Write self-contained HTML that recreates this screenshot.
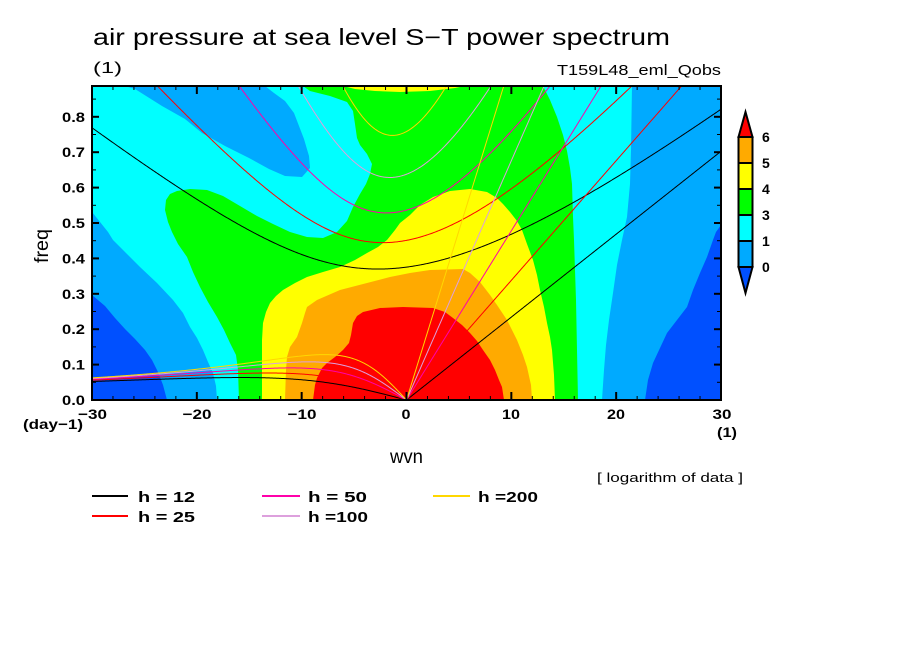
<!DOCTYPE html>
<html><head><meta charset="utf-8"><style>
html,body{margin:0;padding:0;background:#fff;}
svg{display:block;}
text{font-family:"Liberation Sans",sans-serif;fill:#000;}
.b{font-weight:bold;}
</style></head><body>
<svg id="s" xmlns="http://www.w3.org/2000/svg" width="904" height="654" viewBox="0 0 904 654">
<rect width="904" height="654" fill="#fff"/>
<defs><clipPath id="cp"><rect x="92" y="86" width="629" height="314"/></clipPath></defs>
<g clip-path="url(#cp)">
<rect x="92" y="86" width="629" height="314" fill="#00ffff"/>
<!-- medium blue regions -->
<polygon fill="#00aaff" points="125,86 135,89 162,106 185,119 202,133 225,146 249,158 269,169 285,176 302,177 310,168 309,156 304,139 299,126 294,113 285,101 274,93 265,86"/>
<polygon fill="#00aaff" points="92,212 100,222 108,232 113,240 125,252 140,267 157,283 173,300 183,313 190,327 197,338 203,350 208,362 213,373 216,386 217,400 92,400"/>
<polygon fill="#00aaff" points="632,86 631,150 630,184 627,217 622,240 617,265 613,293 609,320 606,345 604,370 602,400 721,400 721,86"/>
<!-- dark blue -->
<polygon fill="#0050ff" points="92,295 105,306 115,318 125,329 135,339 145,350 152,360 158,372 163,385 167,400 92,400"/>
<polygon fill="#0050ff" points="721,225 716,232 713,240 707,257 700,273 693,290 687,307 677,320 667,333 660,348 653,363 648,380 645,400 721,400"/>
<!-- green -->
<polygon fill="#00ff00" points="303,86 543,86 550,100 557,117 563,135 567,151 570,168 572,184 573,217 574,240 575,270 576,300 577,350 578,400 239,400 238,370 236,355 230,343 224,330 217,317 208,302 200,287 193,272 187,257 178,244 172,232 168,222 165,210 166,200 170,194 177,191 190,189 207,190 223,196 240,206 257,216 273,224 290,232 307,237 323,238 337,232 347,221 353,207 360,194 366,184 370,174 372,164 367,154 360,145 357,138 355,124 353,111 347,102 330,96 310,91"/>
<!-- yellow -->
<polygon fill="#ffff00" points="343,86 355,89 375,91 400,92 430,91 455,88 465,86"/>
<polygon fill="#ffff00" points="262,400 262,340 263,323 266,312 270,303 276,296 283,290 295,283 307,277 323,272 340,267 355,260 367,253 378,247 387,240 395,230 400,223 410,215 420,205 433,197 450,191 470,189 487,192 497,198 503,204 510,212 517,221 522,230 527,244 533,260 537,275 540,290 544,307 547,323 550,337 552,350 554,375 555,400"/>
<!-- orange -->
<polygon fill="#ffaa00" points="285,400 286,370 287,357 290,347 297,337 302,323 305,313 307,307 317,300 340,290 367,283 390,277 410,273 430,270 463,269 470,273 480,282 490,295 497,305 507,320 517,340 523,355 527,367 531,385 532,400"/>
<!-- red -->
<polygon fill="#ff0000" points="313,400 315,385 317,378 322,368 327,363 335,357 343,350 349,343 351,335 353,323 357,316 363,312 380,308 403,307 433,308 445,312 453,318 462,325 470,333 477,341 483,350 490,360 495,370 499,380 502,387 504,400"/>
<g id="curves" fill="none" stroke-width="1"></g>
</g>
<g id="ticks" stroke="#000"></g>
<rect x="92" y="86" width="629" height="314" fill="none" stroke="#000" stroke-width="2"/>

<!-- titles -->
<text x="93" y="45" font-size="23" textLength="577" lengthAdjust="spacingAndGlyphs">air pressure at sea level S−T power spectrum</text>
<text x="93" y="73" font-size="16" textLength="29" lengthAdjust="spacingAndGlyphs">(1)</text>
<text x="557" y="75" font-size="15" textLength="164" lengthAdjust="spacingAndGlyphs">T159L48_eml_Qobs</text>

<!-- y labels -->
<g class="b" font-size="14" text-anchor="end">
<text x="85" y="405" textLength="23" lengthAdjust="spacingAndGlyphs">0.0</text>
<text x="85" y="369.6" textLength="23" lengthAdjust="spacingAndGlyphs">0.1</text>
<text x="85" y="334.2" textLength="23" lengthAdjust="spacingAndGlyphs">0.2</text>
<text x="85" y="298.8" textLength="23" lengthAdjust="spacingAndGlyphs">0.3</text>
<text x="85" y="263.4" textLength="23" lengthAdjust="spacingAndGlyphs">0.4</text>
<text x="85" y="228" textLength="23" lengthAdjust="spacingAndGlyphs">0.5</text>
<text x="85" y="192.6" textLength="23" lengthAdjust="spacingAndGlyphs">0.6</text>
<text x="85" y="157.2" textLength="23" lengthAdjust="spacingAndGlyphs">0.7</text>
<text x="85" y="121.8" textLength="23" lengthAdjust="spacingAndGlyphs">0.8</text>
</g>
<text transform="translate(48,263) rotate(-90)" font-size="19" textLength="34" lengthAdjust="spacingAndGlyphs">freq</text>

<!-- x labels -->
<g class="b" font-size="14" text-anchor="middle">
<text x="92.5" y="419" textLength="29" lengthAdjust="spacingAndGlyphs">−30</text>
<text x="197" y="419" textLength="29" lengthAdjust="spacingAndGlyphs">−20</text>
<text x="302" y="419" textLength="29" lengthAdjust="spacingAndGlyphs">−10</text>
<text x="406" y="419" textLength="9" lengthAdjust="spacingAndGlyphs">0</text>
<text x="511" y="419" textLength="18" lengthAdjust="spacingAndGlyphs">10</text>
<text x="616" y="419" textLength="18" lengthAdjust="spacingAndGlyphs">20</text>
<text x="722" y="419" textLength="19" lengthAdjust="spacingAndGlyphs">30</text>
</g>
<text x="23" y="429" font-size="14" class="b" textLength="60" lengthAdjust="spacingAndGlyphs">(day−1)</text>
<text x="717" y="437" font-size="14" class="b" textLength="20" lengthAdjust="spacingAndGlyphs">(1)</text>
<text x="390" y="463" font-size="19" textLength="33" lengthAdjust="spacingAndGlyphs">wvn</text>
<text x="597" y="482" font-size="13" textLength="146" lengthAdjust="spacingAndGlyphs">[ logarithm of data ]</text>

<!-- legend -->
<g stroke-width="2">
<line x1="92" y1="496" x2="128" y2="496" stroke="#000"/>
<line x1="92" y1="516" x2="128" y2="516" stroke="#ff0000"/>
<line x1="262" y1="496" x2="300" y2="496" stroke="#ff00aa"/>
<line x1="262" y1="516" x2="300" y2="516" stroke="#dda0dd"/>
<line x1="433" y1="496" x2="470" y2="496" stroke="#ffd700"/>
</g>
<g class="b" font-size="15">
<text x="138" y="502" textLength="57" lengthAdjust="spacingAndGlyphs">h = 12</text>
<text x="138" y="522" textLength="57" lengthAdjust="spacingAndGlyphs">h = 25</text>
<text x="308" y="502" textLength="59" lengthAdjust="spacingAndGlyphs">h = 50</text>
<text x="308" y="522" textLength="60" lengthAdjust="spacingAndGlyphs">h =100</text>
<text x="478" y="502" textLength="60" lengthAdjust="spacingAndGlyphs">h =200</text>
</g>

<!-- colorbar -->
<g stroke="#000" stroke-width="2">
<polygon points="738.5,137 752.5,137 745.5,112" fill="#ff0000"/>
<rect x="738.5" y="137" width="14" height="26" fill="#ffaa00"/>
<rect x="738.5" y="163" width="14" height="26" fill="#ffff00"/>
<rect x="738.5" y="189" width="14" height="26" fill="#00ff00"/>
<rect x="738.5" y="215" width="14" height="26" fill="#00ffff"/>
<rect x="738.5" y="241" width="14" height="26" fill="#00aaff"/>
<polygon points="738.5,267 752.5,267 745.5,293" fill="#0050ff"/>
</g>
<g class="b" font-size="14">
<text x="762" y="142">6</text>
<text x="762" y="168">5</text>
<text x="762" y="194">4</text>
<text x="762" y="220">3</text>
<text x="762" y="246">1</text>
<text x="762" y="272">0</text>
</g>
</svg>
<script>
(function(){
var NS="http://www.w3.org/2000/svg";
var X=function(s){return 406.5+s*629/60;}, Y=function(f){return 400-f*354;};
// ticks
var tg=document.getElementById('ticks');
function ln(x1,y1,x2,y2,w){var l=document.createElementNS(NS,'line');l.setAttribute('x1',x1);l.setAttribute('y1',y1);l.setAttribute('x2',x2);l.setAttribute('y2',y2);l.setAttribute('stroke-width',w);tg.appendChild(l);}
for(var s=-30;s<=30;s+=2){var maj=(s%10===0);var L=maj?8:4,w=maj?2:1;var x=X(s);ln(x,400,x,400-L,w);ln(x,86,x,86+L,w);}
for(var i=0;i<=17;i++){var f=i*0.05;var maj=(i%2===0);var L=maj?7:4,w=maj?2:1;var y=Y(f);if(y<86)continue;ln(92,y,92+L,y,w);ln(721,y,721-L,y,w);}
// dispersion curves
var g=document.getElementById('curves');
var a=6.371e6,beta=2*7.292e-5/a,grav=9.81,conv=86400/(2*Math.PI);
var hs=[[12,'#000000'],[25,'#ff0000'],[50,'#ff00aa'],[100,'#dda0dd'],[200,'#ffd700']];
function path(pts,col){var p=document.createElementNS(NS,'polyline');p.setAttribute('points',pts.map(function(q){return q[0].toFixed(2)+','+q[1].toFixed(2);}).join(' '));p.setAttribute('stroke',col);p.setAttribute('fill','none');p.setAttribute('stroke-width','1');g.appendChild(p);}
hs.forEach(function(hc){
 var h=hc[0],col=hc[1];
 var c=Math.sqrt(grav*h),w0=Math.sqrt(beta*c),Ls=Math.sqrt(c/beta);
 var kel=[],ig=[],ros=[];
 for(var i=0;i<=600;i++){
  var s=-30+i*0.1;
  var k=s/a*Ls;
  var p=-(k*k+3),q=-k;
  var m=2*Math.sqrt(-p/3);
  var arg=(3*q/(2*p))*Math.sqrt(-3/p);arg=Math.max(-1,Math.min(1,arg));
  var th=Math.acos(arg)/3;
  var r0=m*Math.cos(th),r1=m*Math.cos(th-2*Math.PI/3);
  ig.push([X(s),Y(r0*w0*conv)]);
  if(s<=0.0001)ros.push([X(s),Y(Math.max(0,r1)*w0*conv)]);
  if(s>=-0.0001)kel.push([X(s),Y(c*Math.max(0,s)/a*conv)]);
 }
 path(ig,col);path(ros,col);path(kel,col);
});
})();
</script>
</body></html>
